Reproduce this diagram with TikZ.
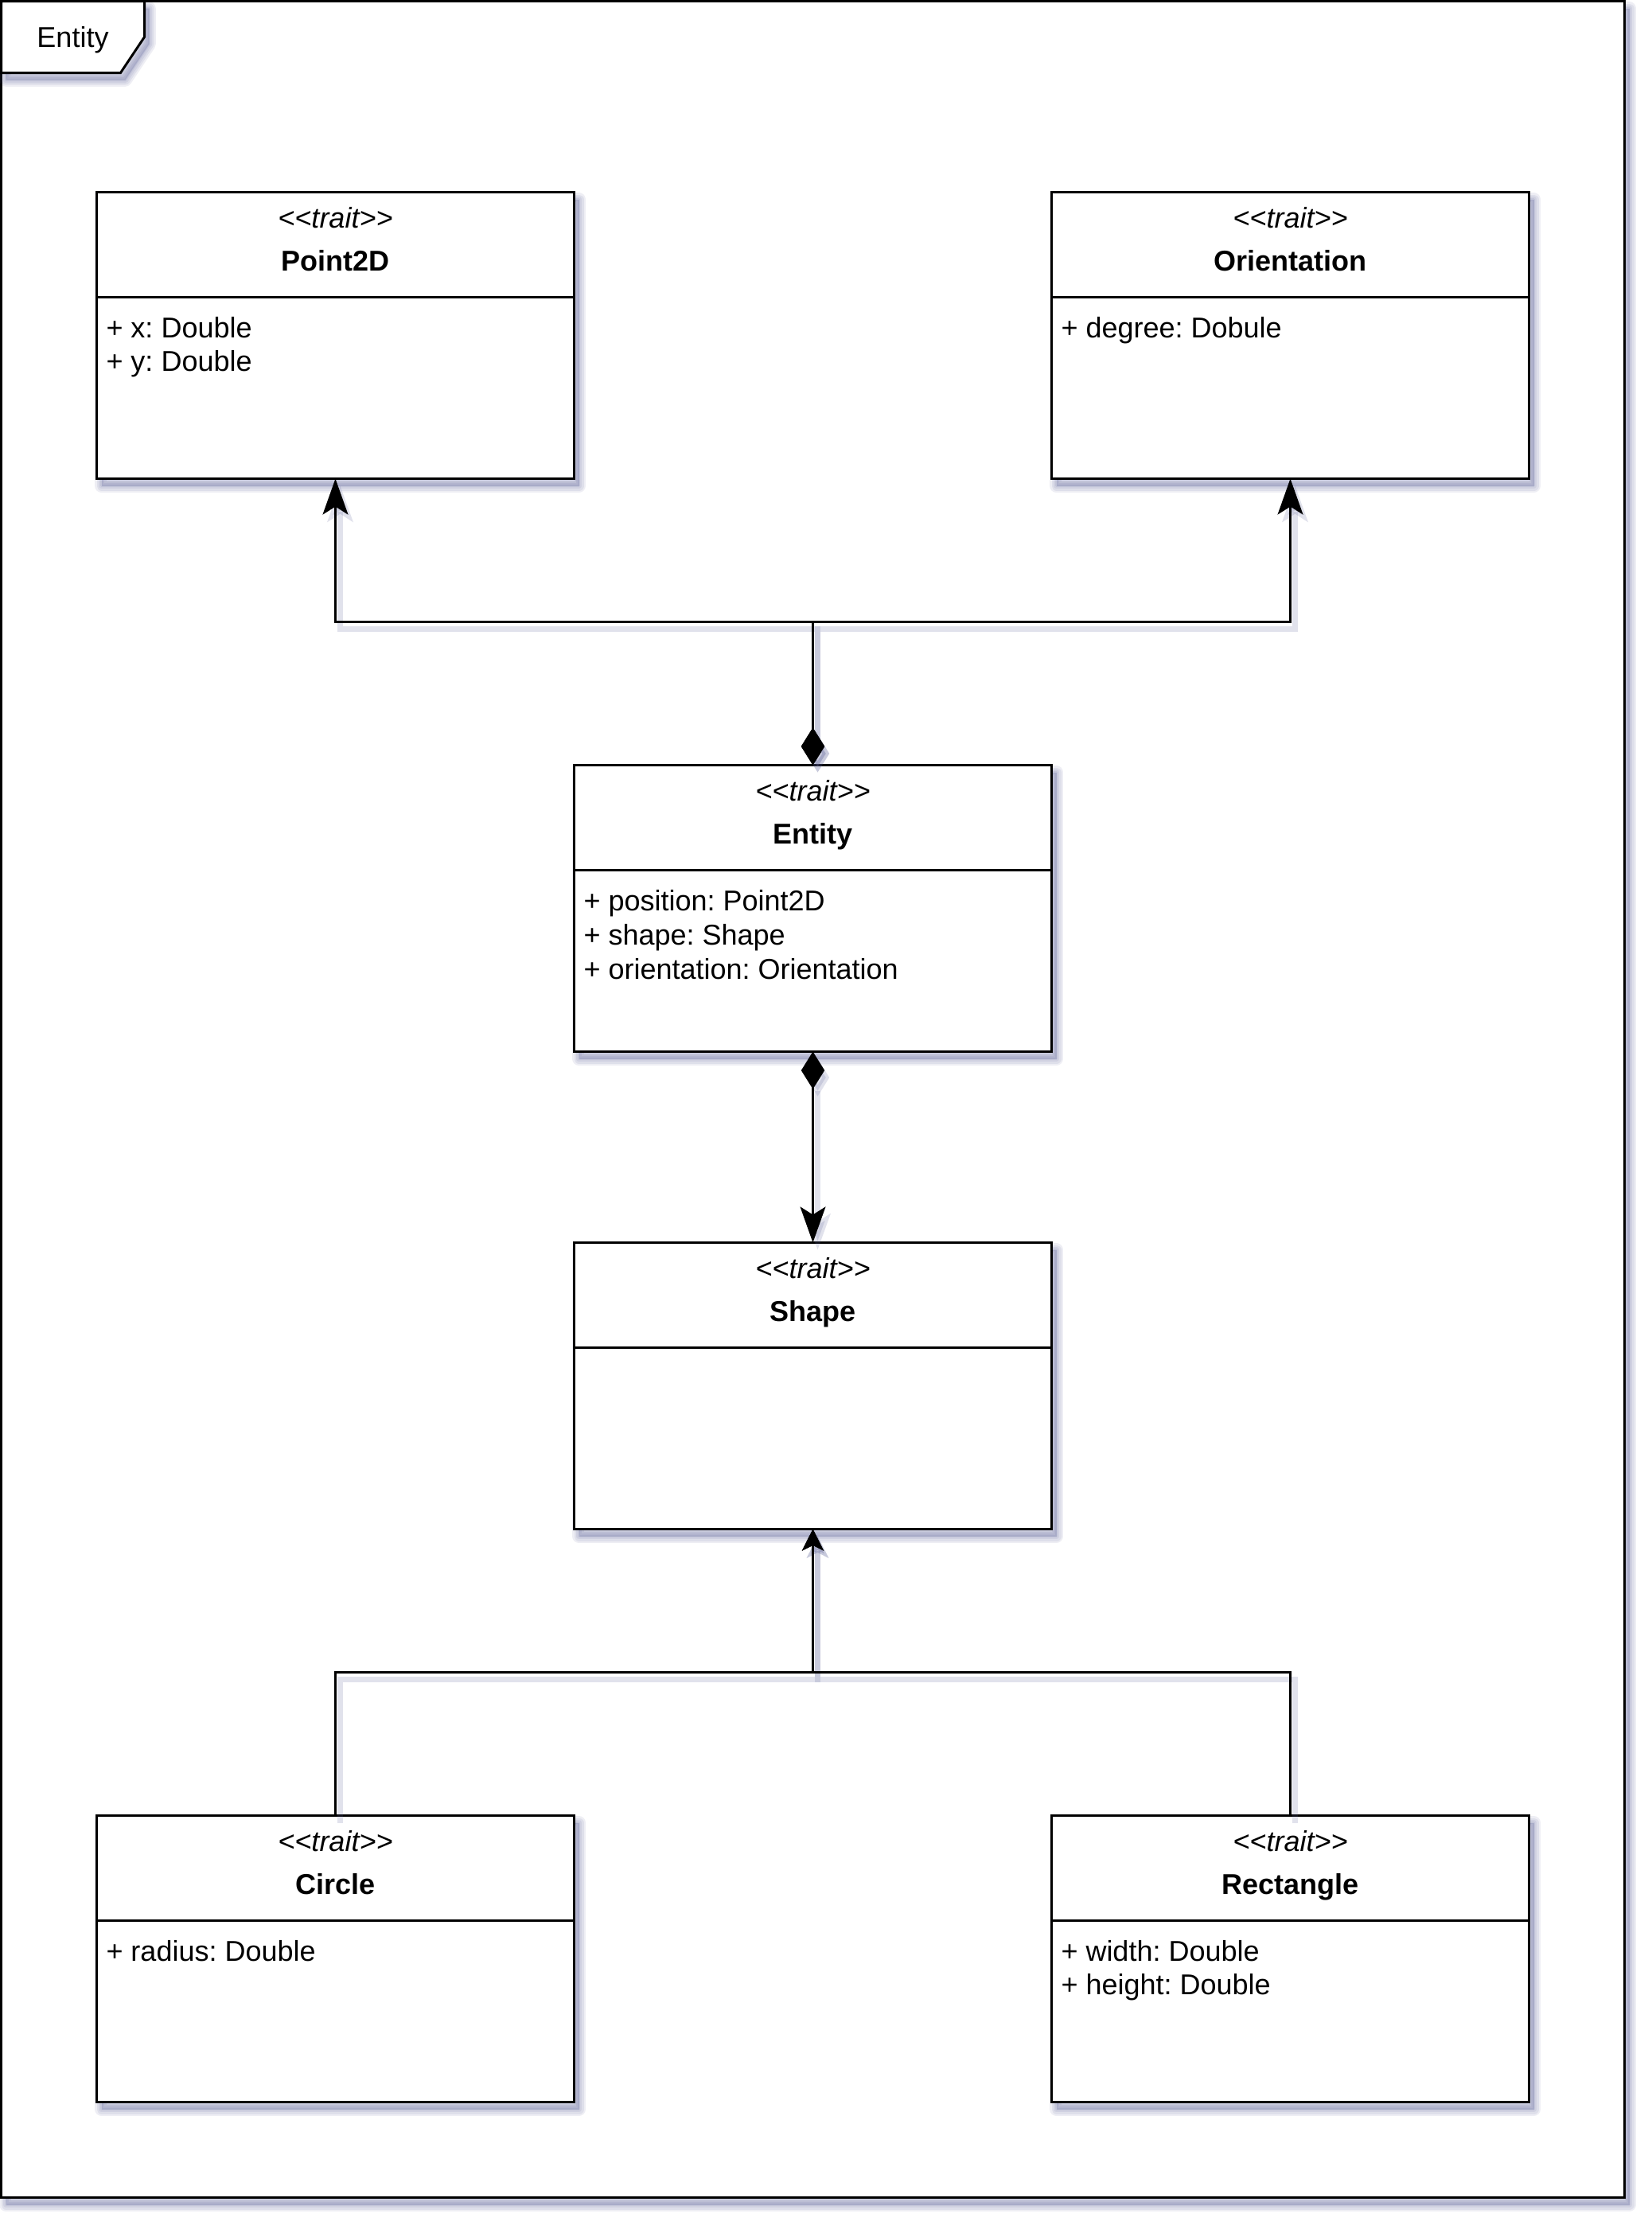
\documentclass[tikz,border=0pt]{standalone}
\usepackage{fontspec}
\setmainfont{Liberation Sans}
\usetikzlibrary{arrows.meta}
\frenchspacing
\definecolor{shadowc}{RGB}{90,95,150}
\newcommand\traitlabel{\textit{<\kern0pt<trait>\kern0pt>}}
\newcommand\softshadow[1]{%
  \begin{scope}[shift={(2pt,-3pt)}]
    \foreach \e in {5.5,4,2.5,1}{\draw[shadowc, draw opacity=0.1, line width=\e pt, line join=round] #1;}
    \fill[shadowc, fill opacity=0.25] #1;
  \end{scope}}
\newcommand\classhead[2]{%
  \draw[line width=1pt] ([yshift=-44pt]#1.north west) -- ([yshift=-44pt]#1.north east);
  \node[anchor=base] (#1-st) at ([yshift=-15.1pt]#1.north) {\traitlabel};
  \node[anchor=base] (#1-nm) at ([yshift=-33.1pt]#1.north) {\textbf{#2}};}
\begin{document}
\begin{tikzpicture}[x=1pt,y=1pt,
  every node/.style={font=\fontsize{12pt}{14.4pt}\selectfont, inner sep=0pt, outer sep=0pt},
  umlbox/.style={draw, line width=1pt, fill=white, minimum width=200pt, minimum height=120pt},
  attr/.style={anchor=base west},
  frameline/.style={draw, line width=1pt, fill=white, line join=miter},
  edge/.style={line width=1pt, line join=miter,
    preaction={draw=shadowc, opacity=0.18, line width=2.5pt, transform canvas={shift={(2pt,-3pt)}}}},
  comp/.style={edge, {Diamond[length=15.7pt,width=9.8pt]}-{Stealth[length=15pt,width=10.6pt,inset=3.3pt]}},
  inh/.style={edge, -{Stealth[length=9pt,width=9pt,inset=2.2pt]}}]
\useasboundingbox (0,0) rectangle (692,-932);
\fill[white] (0,0) rectangle (692,-932);
\begin{scope}[shift={(0.5,-0.5)}]
  % frame
  \softshadow{(0,0) rectangle (680,-920)}
  \path[frameline] (0,0) rectangle (680,-920);
  \softshadow{(0,0) -- (60,0) -- (60,-15) -- (50,-30) -- (0,-30) -- cycle}
  \path[frameline] (0,0) -- (60,0) -- (60,-15) -- (50,-30) -- (0,-30) -- cycle;
  \node[anchor=base] (framelabel) at (30,-19.3) {Entity};
  % shadows of classes
  \softshadow{(40,-80) rectangle (240,-200)}
  \softshadow{(440,-80) rectangle (640,-200)}
  \softshadow{(240,-320) rectangle (440,-440)}
  \softshadow{(240,-520) rectangle (440,-640)}
  \softshadow{(40,-760) rectangle (240,-880)}
  \softshadow{(440,-760) rectangle (640,-880)}
  % classes
  \node[umlbox] (p2d) at (140,-140) {};
  \classhead{p2d}{Point2D}
  \node[attr] (p2d-a1) at ([xshift=4pt,yshift=-60.9pt]p2d.north west) {+ x: Double};
  \node[attr] (p2d-a2) at ([xshift=4pt,yshift=-75.1pt]p2d.north west) {+ y: Double};

  \node[umlbox] (ori) at (540,-140) {};
  \classhead{ori}{Orientation}
  \node[attr] (ori-a1) at ([xshift=4pt,yshift=-60.9pt]ori.north west) {+ degree: Dobule};

  \node[umlbox] (ent) at (340,-380) {};
  \classhead{ent}{Entity}
  \node[attr] (ent-a1) at ([xshift=4pt,yshift=-60.9pt]ent.north west) {+ position: Point2D};
  \node[attr] (ent-a2) at ([xshift=4pt,yshift=-75.3pt]ent.north west) {+ shape: Shape};
  \node[attr] (ent-a3) at ([xshift=4pt,yshift=-89.7pt]ent.north west) {+ orientation: Orientation};

  \node[umlbox] (shp) at (340,-580) {};
  \classhead{shp}{Shape}

  \node[umlbox] (cir) at (140,-820) {};
  \classhead{cir}{Circle}
  \node[attr] (cir-a1) at ([xshift=4pt,yshift=-60.9pt]cir.north west) {+ radius: Double};

  \node[umlbox] (rec) at (540,-820) {};
  \classhead{rec}{Rectangle}
  \node[attr] (rec-a1) at ([xshift=4pt,yshift=-60.9pt]rec.north west) {+ width: Double};
  \node[attr] (rec-a2) at ([xshift=4pt,yshift=-75.1pt]rec.north west) {+ height: Double};

  % connectors
  \draw[comp] (ent.north) -- ++(0,60) -| (p2d.south);
  \draw[comp] (ent.north) -- ++(0,60) -| (ori.south);
  \draw[comp] (ent.south) -- (shp.north);
  \draw[inh] (cir.north) -- ++(0,60) -| (shp.south);
  \draw[inh] (rec.north) -- ++(0,60) -| (shp.south);
\end{scope}
\end{tikzpicture}
\end{document}
